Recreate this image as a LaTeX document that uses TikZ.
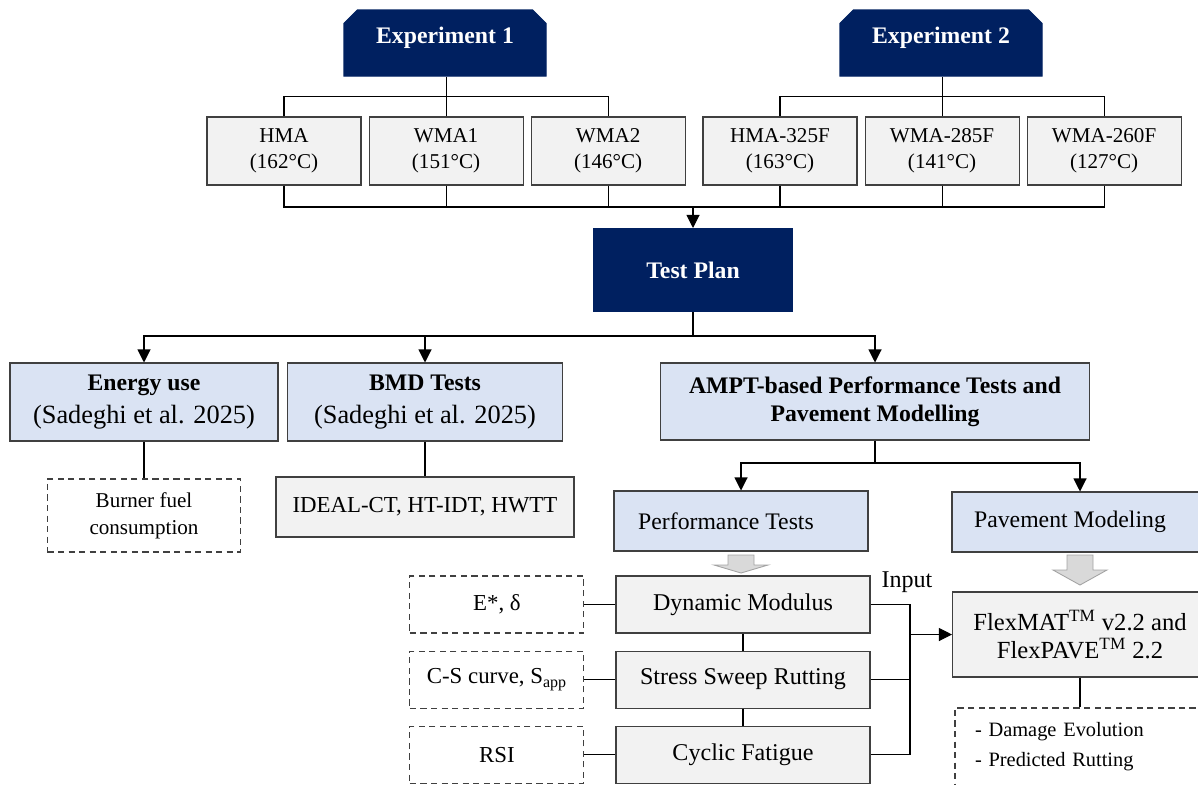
\documentclass[tikz,border=0pt]{standalone}
\usepackage{fontspec}
\setmainfont{Liberation Serif}
\usetikzlibrary{arrows.meta,positioning,shapes.misc}
\definecolor{Navy}{HTML}{002060}
\definecolor{Sky}{HTML}{DAE3F3}
\definecolor{Pale}{HTML}{F2F2F2}
\definecolor{Edge}{HTML}{404040}
\definecolor{Shade}{HTML}{D9D9D9}

\begin{document}
\begin{tikzpicture}[x=0.2mm,y=-0.2mm,line width=0.6pt,
  hd/.style={fill=Navy,draw=Navy,text=white,font=\fontsize{13.5}{16}\selectfont\bfseries,align=center},
  ex/.style={hd,chamfered rectangle,chamfered rectangle corners={north west,north east},chamfered rectangle xsep=1.6mm,minimum width=40.4mm,minimum height=13.2mm,text height=10pt,text depth=10pt},
  g/.style={draw=Edge,fill=Pale,minimum width=30.8mm,minimum height=13.6mm,align=center,font=\fontsize{12}{14.6}\selectfont},
  bl/.style={draw=Edge,fill=Sky,align=center,font=\fontsize{13.5}{17}\selectfont},
  ds/.style={draw=Edge,dash pattern=on 3.5pt off 2.5pt,fill=white,align=center,font=\fontsize{13}{15}\selectfont},
  m/.style={draw=Edge,fill=Pale,minimum width=50.8mm,minimum height=11.4mm,font=\fontsize{13.7}{16}\selectfont},
  a/.style={-{Triangle[length=2.6mm,width=2.6mm]}},
  pics/blockdown/.style 2 args={code={\draw[draw=Shade!75!black,fill=Shade,line width=0.5pt] (-13,0) -- (13,0) -- (13,#1) -- (27,#1) -- (0,#2) -- (-27,#1) -- (-13,#1) -- cycle;}}]
  \useasboundingbox (0,0) rectangle (1198,784);
  \clip (0,0) rectangle (1198,784);

  % the two experiments and their mixes
  \node[ex] (exp1) at (445,43) {Experiment 1}; \node[ex] (exp2) at (941,43) {Experiment 2};
  \node[g] (hma) at (284,151) {HMA\\(162°C)}; \node[g,right=1.4mm of hma] (wma1) {WMA1\\(151°C)};
  \node[g,right=1.4mm of wma1] (wma2) {WMA2\\(146°C)};
  \node[g] (hma325) at (780,151) {HMA-325F\\(163°C)}; \node[g,right=1.4mm of hma325] (wma285) {WMA-285F\\(141°C)};
  \node[g,right=1.4mm of wma285] (wma260) {WMA-260F\\(127°C)};
  \draw (hma.north) -- ++(0,-20) -| (wma2.north); \draw (wma1.north) -- (wma1.north |- exp1.south);
  \draw (hma325.north) -- ++(0,-20) -| (wma260.north); \draw (wma285.north) -- (wma285.north |- exp2.south);

  \node[hd,minimum width=39.6mm,minimum height=16.6mm] (plan) at (693,270) {Test Plan};
  \coordinate (join) at (693,207);
  \draw (hma.south) |- (join) -| (wma260.south);
  \foreach \n in {wma1,wma2,hma325,wma285} \draw (\n.south) -- (\n.south |- join);
  \draw[a] (join) -- (plan.north);

  % three branches of the plan
  \node[bl,minimum width=53.6mm,minimum height=15.6mm] (energy) at (144,402) {\textbf{Energy use}\\[2pt]{\fontsize{15}{17}\selectfont(Sadeghi et al. 2025)}};
  \node[bl,minimum width=55mm,minimum height=15.6mm] (bmd) at (425,402) {\textbf{BMD Tests}\\[2pt]{\fontsize{15}{17}\selectfont(Sadeghi et al. 2025)}};
  \node[bl,font=\fontsize{13.5}{16}\selectfont\bfseries,minimum width=85.8mm,minimum height=15.4mm] (ampt) at (875,401.5) {AMPT-based Performance Tests and\\Pavement Modelling};
  \coordinate (split) at (693,336);
  \draw (plan.south) -- (split);
  \draw[a] (split) -| (energy.north); \draw[a] (split) -| (bmd.north); \draw[a] (split) -| (ampt.north);

  \node[ds,minimum width=38.6mm,minimum height=14.6mm,font=\fontsize{12}{15.3}\selectfont] (burner) at (144,515.5) {Burner fuel\\consumption};
  \node[g,minimum width=59.6mm,minimum height=12mm,font=\fontsize{13}{15}\selectfont] (ideal) at (425,507) {IDEAL-CT, HT-IDT, HWTT};
  \draw (energy.south) -- (burner.north); \draw (bmd.south) -- (ideal.north);

  % AMPT tests and modelling
  \node[bl,minimum width=50.8mm,minimum height=12mm] (perf) at (741,521) {Performance Tests\hspace*{6mm}};
  \node[bl,minimum width=51.2mm,minimum height=12mm] (pave) at (1080,522) {Pavement Modeling\hspace*{4mm}};
  \coordinate (fork) at (875,463);
  \draw (ampt.south) -- (fork); \draw[a] (fork) -| (perf.north); \draw[a] (fork) -| (pave.north);
  \pic at (741,555) {blockdown={10}{18}}; \pic at (1080,555) {blockdown={15}{30}};

  \node[m] (dyn) at (743,604.5) {Dynamic Modulus};
  \node[m,below=3.4mm of dyn] (sweep) {Stress Sweep Rutting};
  \node[m,below=3.4mm of sweep] (fatigue) {Cyclic Fatigue};
  \node[ds,minimum width=34.8mm,minimum height=11.4mm,left=6.2mm of dyn] (estar) {E*, δ};
  \node[ds,minimum width=34.8mm,minimum height=11.4mm,left=6.2mm of sweep] (cscurve) {C-S curve, S\textsubscript{app}};
  \node[ds,minimum width=34.8mm,minimum height=11.4mm,left=6.2mm of fatigue] (rsi) {RSI};
  \draw (estar) -- (dyn); \draw (cscurve) -- (sweep); \draw (rsi) -- (fatigue);
  \draw (dyn) -- (sweep); \draw (sweep) -- (fatigue);

  \node[m,minimum width=51mm,minimum height=17mm,align=center,font=\fontsize{14}{16}\selectfont] (flex) at (1080,634.5) {FlexMAT\textsuperscript{TM} v2.2 and\\FlexPAVE\textsuperscript{TM} 2.2};
  \coordinate (inbus) at (910,634.5);
  \draw (dyn.east) -| (inbus) |- (fatigue.east);
  \draw (sweep.east) -- (sweep.east -| inbus);
  \draw[a] (inbus) -- (flex.west);
  \node[font=\fontsize{13.7}{16}\selectfont] (input) at (907,582) {Input};

  \node[ds,align=left,text width=42mm,inner xsep=4mm,minimum height=15.6mm,font=\fontsize{11.6}{17}\selectfont] (out) at (1080,747) {- Damage Evolution\\- Predicted Rutting};
  \draw (flex.south) -- (out.north);
\end{tikzpicture}
\end{document}
